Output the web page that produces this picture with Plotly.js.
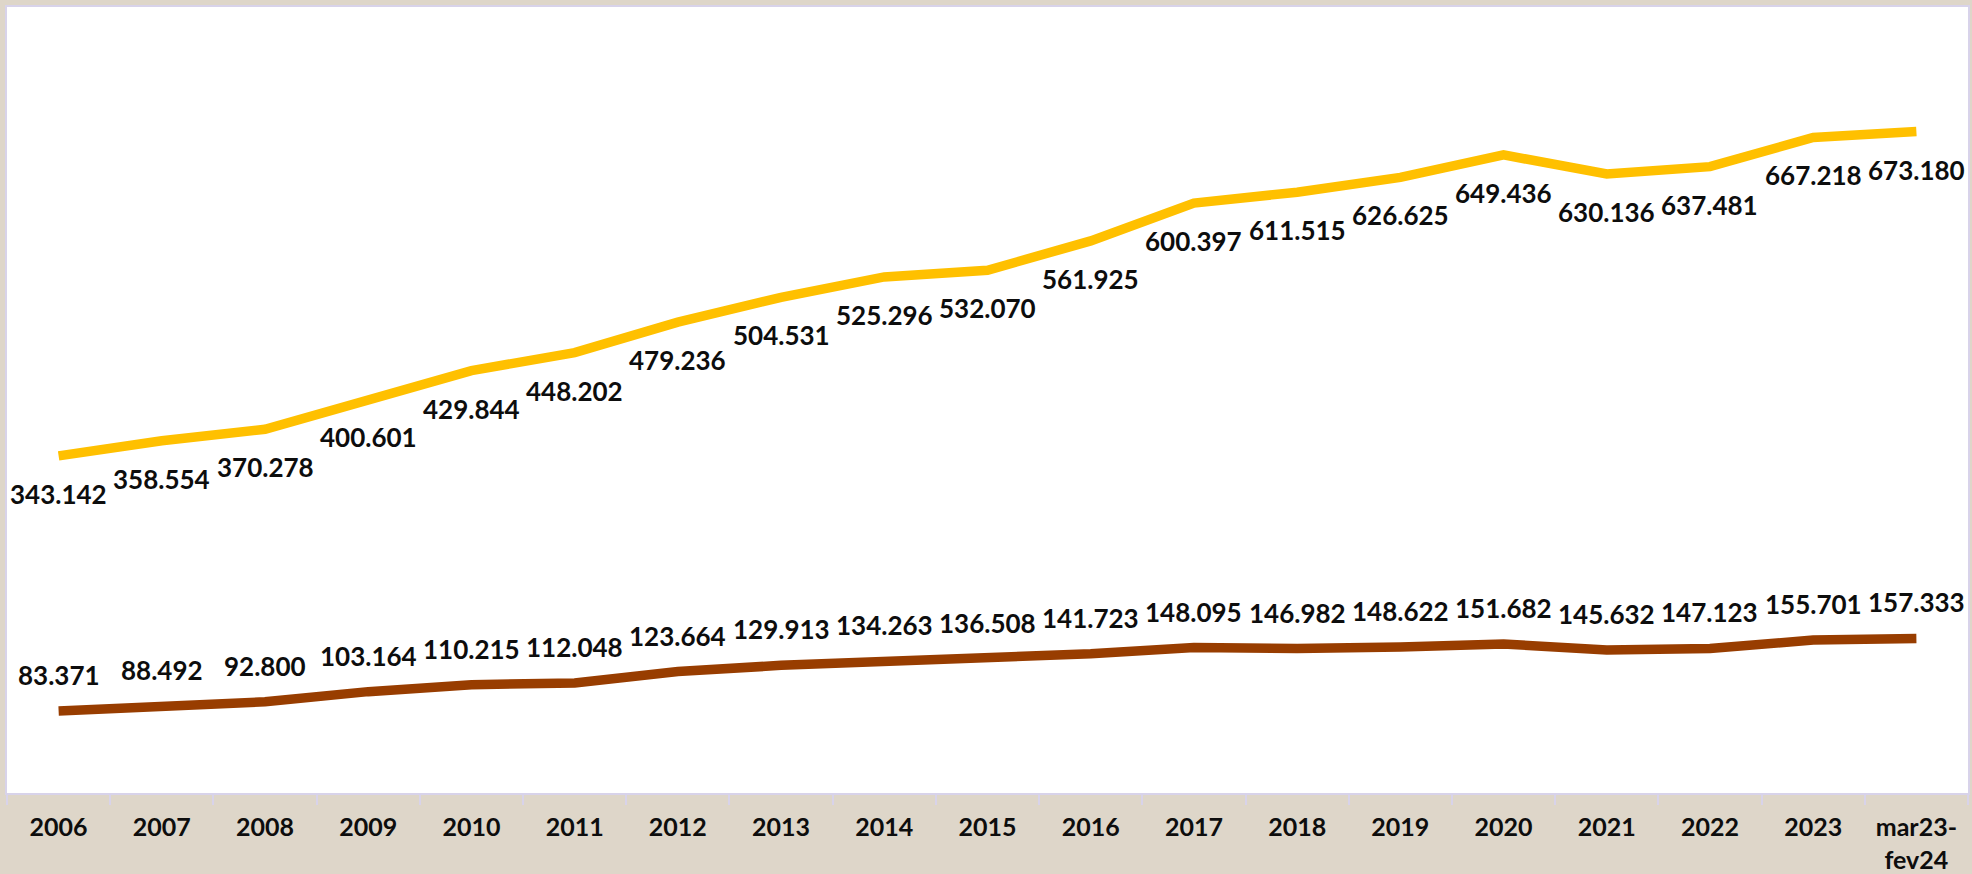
<!DOCTYPE html>
<html>
<head>
<meta charset="utf-8">
<script src="https://cdn.plot.ly/plotly-3.0.1.min.js"></script>
<style>
html,body{margin:0;padding:0;background:#ded6c9;}
#chart{width:1972px;height:874px;}
</style>
</head>
<body>
<div id="chart"></div>
<script>
var categories = ["2006","2007","2008","2009","2010","2011","2012","2013","2014","2015","2016","2017","2018","2019","2020","2021","2022","2023","mar23-<br>fev24"];
var upperValues = [343.142,358.554,370.278,400.601,429.844,448.202,479.236,504.531,525.296,532.070,561.925,600.397,611.515,626.625,649.436,630.136,637.481,667.218,673.180];
var lowerValues = [83.371,88.492,92.800,103.164,110.215,112.048,123.664,129.913,134.263,136.508,141.723,148.095,146.982,148.622,151.682,145.632,147.123,155.701,157.333];
var upperLabels = ["343.142","358.554","370.278","400.601","429.844","448.202","479.236","504.531","525.296","532.070","561.925","600.397","611.515","626.625","649.436","630.136","637.481","667.218","673.180"];
var lowerLabels = ["83.371","88.492","92.800","103.164","110.215","112.048","123.664","129.913","134.263","136.508","141.723","148.095","146.982","148.622","151.682","145.632","147.123","155.701","157.333"];

var labelFont = {family:"Lato, 'Open Sans', sans-serif", size:26, color:"#0d0d0d", weight:700};

var traces = [
  {x:categories, y:upperValues, type:"scatter", mode:"lines", line:{color:"#FFC000", width:9.5}, hoverinfo:"skip", cliponaxis:false},
  {x:categories, y:lowerValues, type:"scatter", mode:"lines", line:{color:"#983D00", width:9.5}, hoverinfo:"skip", cliponaxis:false}
];

var annotations = [];
categories.forEach(function(c,i){
  annotations.push({x:i, y:upperValues[i], xref:"x", yref:"y", text:upperLabels[i], showarrow:false, yshift:-38, xanchor:"center", yanchor:"middle", font:labelFont});
  annotations.push({x:i, y:lowerValues[i], xref:"x", yref:"y", text:lowerLabels[i], showarrow:false, yshift:36, xanchor:"center", yanchor:"middle", font:labelFont});
});

var layout = {
  width:1972, height:874,
  paper_bgcolor:"#ded6c9",
  plot_bgcolor:"#ffffff",
  margin:{l:7, r:4, t:7, b:81},
  showlegend:false,
  xaxis:{
    type:"category",
    tickson:"boundaries",
    ticks:"outside", ticklen:10, tickwidth:2, tickcolor:"#d8d3ea",
    ticklabelstandoff:11,
    showline:true, linecolor:"#d8d3ea", linewidth:2, mirror:true,
    showgrid:false, zeroline:false,
    tickfont:{family:"Lato, 'Open Sans', sans-serif", size:25, color:"#0d0d0d", weight:700},
    range:[-0.5, categories.length-0.5]
  },
  yaxis:{
    range:[0,800],
    showticklabels:false, ticks:"",
    showgrid:false, zeroline:false,
    showline:true, linecolor:"#d8d3ea", linewidth:2, mirror:true
  },
  annotations:annotations
};

Plotly.newPlot("chart", traces, layout, {displayModeBar:false, staticPlot:true});
</script>
</body>
</html>
